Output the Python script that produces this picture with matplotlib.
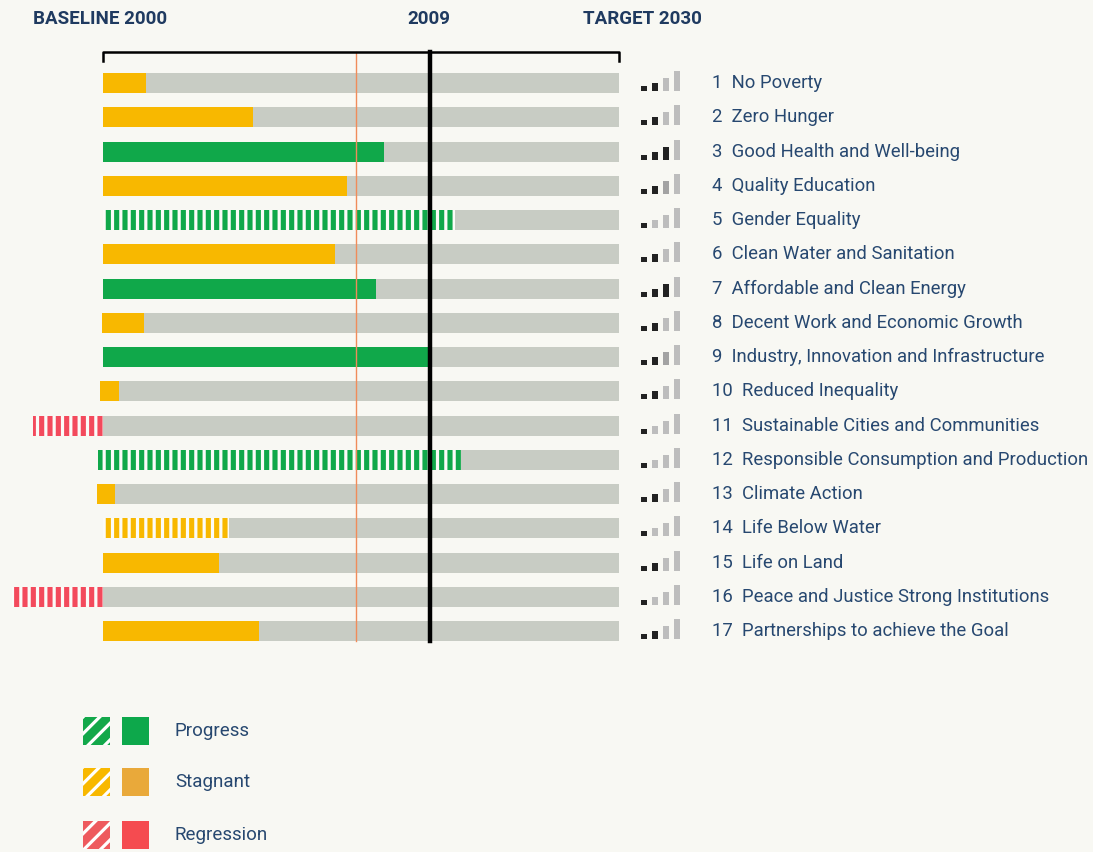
import numpy as np
import matplotlib
matplotlib.use('Agg')
import matplotlib.pyplot as plt
from matplotlib.patches import Rectangle

# SDG progress, 0 = baseline 2000, 100 = target 2030
goals = ['No Poverty', 'Zero Hunger', 'Good Health and Well-being', 'Quality Education',
         'Gender Equality', 'Clean Water and Sanitation', 'Affordable and Clean Energy',
         'Decent Work and Economic Growth', 'Industry, Innovation and Infrastructure',
         'Reduced Inequality', 'Sustainable Cities and Communities',
         'Responsible Consumption and Production', 'Climate Action', 'Life Below Water',
         'Life on Land', 'Peace and Justice Strong Institutions', 'Partnerships to achieve the Goal']
bar_start = [0, 0, 0, 0, 0, 0, 0, -0.2, 0, -0.6, -13.6, -1.0, -1.2, 0, 0, -17.6, 0]
bar_end = [8.3, 29.1, 54.5, 47.3, 68.2, 45.0, 52.9, 7.9, 63.2, 3.1, 0, 69.4, 2.3, 24.4, 22.5, 0, 30.2]
status = ['stagnant', 'stagnant', 'progress', 'stagnant', 'progress', 'stagnant', 'progress',
          'stagnant', 'progress', 'stagnant', 'regression', 'progress', 'stagnant', 'stagnant',
          'stagnant', 'regression', 'stagnant']
hatched = [False, False, False, False, True, False, False, False, False, False,
           True, True, False, True, False, True, False]
signal = [2, 2, 3, 2.5, 1, 2, 3, 2, 2.5, 2, 1, 1, 2, 1, 2, 1, 2]
year_line = 63.4      # 2009
expected_line = 49.0  # orange reference line

colors = {'progress': '#10A84A', 'stagnant': '#F8B800', 'regression': '#F34A5C'}
legend_items = ['Progress', 'Stagnant', 'Regression']
legend_hatch = ['#13A84A', '#F8B800', '#EE5A5E']
legend_solid = ['#0DA84B', '#E9A93A', '#F54B50']

bg = '#F8F8F3'
blue = '#274870'
plt.rcParams['font.family'] = ['Roboto', 'DejaVu Sans']
plt.rcParams['hatch.linewidth'] = 2.3

W, H = 1093, 852
fig = plt.figure(figsize=(W / 100, H / 100), dpi=100, facecolor=bg)
ax = fig.add_axes([0, 0, 1, 1])
ax.set_facecolor(bg)
ax.axis('off')

# pixel -> data helpers
def xd(px):
    return (px - 103) / 5.16

def yd(py):
    return (py - 83) / 34.25

ax.set_xlim(xd(0), xd(W))
ax.set_ylim(yd(H), yd(0))

n = len(goals)
rows = np.arange(n)
bh = 20 / 34.25

ax.barh(rows, 100, left=0, height=bh, color='#C8CCC4', zorder=1)
for i in range(n):
    c = colors[status[i]]
    w = bar_end[i] - bar_start[i]
    if hatched[i]:
        ax.barh(i, w, left=bar_start[i], height=bh, color=c, hatch='||',
                edgecolor='#FBFBF8', linewidth=0, zorder=2)
    else:
        ax.barh(i, w, left=bar_start[i], height=bh, color=c, linewidth=0, zorder=2)

# bracket and reference lines
ax.plot([0, 0, 100, 100], [yd(61), yd(52), yd(52), yd(61)], color='black', lw=1.8, zorder=5)
ax.plot([expected_line] * 2, [yd(52), yd(641)], color='#F08C5A', lw=1, zorder=3)
ax.plot([year_line] * 2, [yd(52), yd(641)], color='black', lw=3.2, zorder=4)

# signal icons
icon_x = [644, 655, 666, 677]
icon_h = [5, 8, 13, 20]
for i in range(n):
    for k in range(4):
        if k < int(signal[i]):
            fc = '#222222'
        elif k < signal[i]:
            fc = '#A3A3A3'
        else:
            fc = '#BDBDBD'
        ax.bar(xd(icon_x[k]), -icon_h[k] / 34.25, bottom=i + 8 / 34.25,
               width=6 / 5.16, color=fc, linewidth=0)
    ax.text(xd(712), i, f'{i + 1}  {goals[i]}', va='center', ha='left',
            fontsize=13.3, color=blue)

# header
hdr = dict(fontsize=13.5, fontweight='bold', color='#1F3A60', va='center')
fig.text(33 / W, 1 - 19 / H, 'BASELINE 2000', ha='left', **hdr)
fig.text(429 / W, 1 - 19 / H, '2009', ha='center', **hdr)
fig.text(702 / W, 1 - 19 / H, 'TARGET 2030', ha='right', **hdr)

# legend
leg_y = [731, 782, 835]
for j, lab in enumerate(legend_items):
    y0 = 1 - (leg_y[j] + 14) / H
    fig.add_artist(Rectangle((83 / W, y0), 27 / W, 28 / H, transform=fig.transFigure,
                             facecolor=legend_hatch[j], hatch='//', edgecolor='white', lw=0))
    fig.add_artist(Rectangle((122 / W, y0), 27 / W, 28 / H, transform=fig.transFigure,
                             facecolor=legend_solid[j], lw=0))
    fig.text(175 / W, 1 - leg_y[j] / H, lab, ha='left', va='center', fontsize=13.5, color=blue)

fig.savefig('out.png', dpi=100, facecolor=bg)
